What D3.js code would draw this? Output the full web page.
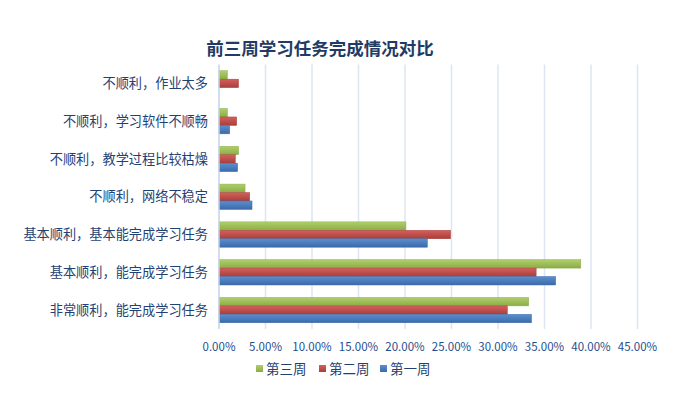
<!DOCTYPE html>
<html>
<head>
<meta charset="utf-8">
<script src="https://cdn.jsdelivr.net/npm/d3@7"></script>
<style>
  body { margin: 0; background: #fff; }
  svg { display: block; font-family: "Noto Sans CJK SC", "Noto Sans", sans-serif; }
</style>
</head>
<body>
<svg id="chart" width="700" height="395"></svg>
<script>
// categories, top to bottom as drawn
const categories = [
  "不顺利，作业太多",
  "不顺利，学习软件不顺畅",
  "不顺利，教学过程比较枯燥",
  "不顺利，网络不稳定",
  "基本顺利，基本能完成学习任务",
  "基本顺利，能完成学习任务",
  "非常顺利，能完成学习任务"
];
const seriesNames = ["第三周", "第二周", "第一周"];
const week3 = [0.009, 0.009, 0.021, 0.028, 0.201, 0.389, 0.333];
const week2 = [0.021, 0.019, 0.0175, 0.033, 0.249, 0.341, 0.310];
const week1 = [0, 0.0115, 0.020, 0.0355, 0.224, 0.362, 0.336];
const xTicks = [0, 0.05, 0.10, 0.15, 0.20, 0.25, 0.30, 0.35, 0.40, 0.45];

const colors = {
  "第三周": ["#b0cf6c", "#8aac45"],
  "第二周": ["#d4605c", "#a83e3b"],
  "第一周": ["#5b8fd0", "#3b6aa8"]
};

const svg = d3.select("#chart");
const margin = {left: 219, right: 62, top: 64.5, bottom: 66};
const width = 700 - margin.left - margin.right;
const height = 395 - margin.top - margin.bottom;

const rows = categories.map(function(c, i) {
  return {cat: c, vals: [week3[i], week2[i], week1[i]]};
});

const x = d3.scaleLinear().domain([0, 0.45]).range([0, 418.5]);
const y = d3.scaleBand().domain(categories).range([0, height]).paddingInner(0.33).paddingOuter(0.165);
const ys = d3.scaleBand().domain(seriesNames).range([0, y.bandwidth()]);

// gradients
const defs = svg.append("defs");
seriesNames.forEach(function(s, i) {
  const g = defs.append("linearGradient")
    .attr("id", "grad" + i)
    .attr("x1", 0).attr("y1", 0).attr("x2", 0).attr("y2", 1);
  g.append("stop").attr("offset", "0%").attr("stop-color", colors[s][0]);
  g.append("stop").attr("offset", "100%").attr("stop-color", colors[s][1]);
});

// title
svg.append("text")
  .attr("x", 320).attr("y", 55)
  .attr("text-anchor", "middle")
  .style("font-size", "17.5px").style("font-weight", "bold")
  .style("fill", "#1f3b66")
  .text("前三周学习任务完成情况对比");

const plot = svg.append("g").attr("transform", `translate(${margin.left},${margin.top})`);

// gridlines
plot.append("g")
  .selectAll("line")
  .data(xTicks.slice(1))
  .enter().append("line")
  .attr("x1", d => x(d)).attr("x2", d => x(d))
  .attr("y1", 0).attr("y2", height)
  .style("stroke", "#dce6f2").style("stroke-width", 1.5);

// bars
plot.append("g")
  .selectAll("g")
  .data(rows)
  .enter().append("g")
  .attr("transform", d => `translate(0,${y(d.cat)})`)
  .selectAll("rect")
  .data(d => d.vals.map(function(v, i) { return {s: seriesNames[i], i: i, v: v}; }))
  .enter().append("rect")
  .attr("x", 0)
  .attr("y", d => ys(d.s))
  .attr("width", d => x(d.v))
  .attr("height", ys.bandwidth())
  .style("fill", d => `url(#grad${d.i})`)
  .style("stroke", d => colors[d.s][1]).style("stroke-width", 0.5);

// left axis line
plot.append("line")
  .attr("x1", 0).attr("x2", 0).attr("y1", 0).attr("y2", height)
  .style("stroke", "#c5d3e6").style("stroke-width", 1.5);

// category labels
plot.append("g")
  .selectAll("text")
  .data(categories)
  .enter().append("text")
  .attr("x", -11)
  .attr("y", d => y(d) + y.bandwidth() / 2)
  .attr("dy", "0.35em")
  .attr("text-anchor", "end")
  .style("font-size", "13.2px").style("fill", "#1f4273")
  .text(d => d);

// x tick labels
plot.append("g")
  .selectAll("text")
  .data(xTicks)
  .enter().append("text")
  .attr("x", d => x(d))
  .attr("y", height + 22)
  .attr("text-anchor", "middle")
  .style("font-size", "11.5px").style("fill", "#1f4e8c")
  .text(d => d3.format(".2%")(d));

// legend
const legendX = [256, 319, 380];
const legend = svg.append("g").attr("transform", "translate(0,369)");
seriesNames.forEach(function(s, i) {
  legend.append("rect")
    .attr("x", legendX[i]).attr("y", -4)
    .attr("width", 7).attr("height", 7)
    .style("fill", `url(#grad${i})`);
  legend.append("text")
    .attr("x", legendX[i] + 10).attr("y", 0)
    .attr("dy", "0.35em")
    .style("font-size", "13.5px").style("fill", "#1f4273")
    .text(s);
});
</script>
</body>
</html>
